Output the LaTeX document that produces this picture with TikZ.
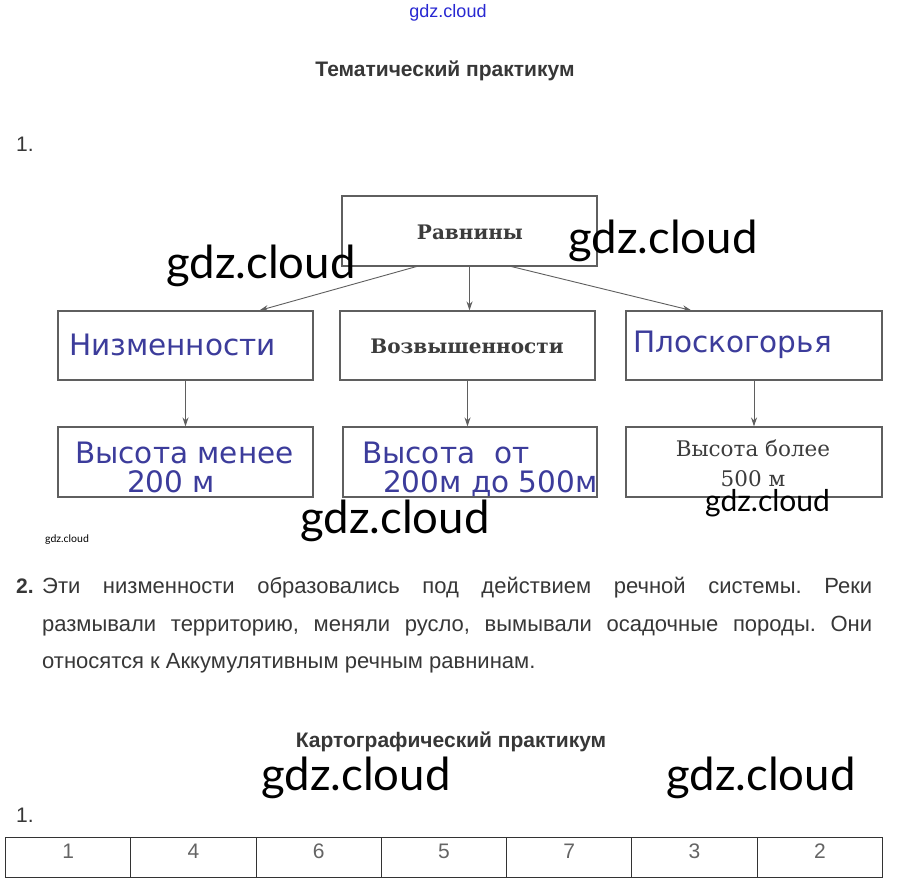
\documentclass[tikz,border=0pt]{standalone}
\usepackage{fontspec}
\setmainfont{Liberation Sans}
\newfontfamily\serifbook{DejaVu Serif}
\newfontfamily\wmfont{Lato}
\newfontfamily\handfont{DejaVu Sans}
\usetikzlibrary{arrows.meta,calc}
\definecolor{boxline}{RGB}{95,95,95}
\definecolor{txtgray}{RGB}{55,55,55}
\definecolor{numgray}{RGB}{100,100,100}
\definecolor{serifgray}{RGB}{60,60,60}
\definecolor{handblue}{RGB}{60,60,155}
\definecolor{topblue}{RGB}{40,40,210}
\frenchspacing
\begin{document}
\begin{tikzpicture}[x=1pt,y=-1pt,
  box/.style={draw=boxline, line width=1.1pt, minimum width=255pt, minimum height=70pt, inner sep=0pt},
  conn/.style={draw=boxline, line width=0.9pt, -{Stealth[length=9pt,width=6pt]}},
  wm/.style={font=\wmfont\fontsize{45.5}{46}\selectfont, text=black, inner sep=0pt, anchor=base west},
  hand/.style={font=\handfont\fontsize{29.5}{30}\selectfont, text=handblue, inner sep=0pt, anchor=base west},
  printb/.style={font=\serifbook\bfseries\fontsize{20}{22}\selectfont, text=serifgray, inner sep=0pt},
  printr/.style={font=\serifbook\fontsize{21.5}{23}\selectfont, text=serifgray, inner sep=0pt, anchor=base},
  head/.style={font=\bfseries\fontsize{21}{24}\selectfont, text=txtgray, inner sep=0pt, anchor=base},
  para/.style={font=\fontsize{22}{24}\selectfont, text=txtgray, inner sep=0pt, anchor=base west},
  cell/.style={draw=black!80, line width=1pt, minimum width=125.29pt, minimum height=40pt, inner sep=0pt, anchor=north west},
  num/.style={font=\fontsize{21}{21}\selectfont, text=numgray, inner sep=0pt, anchor=center, yshift=-14pt}
]
\useasboundingbox[fill=white] (0,0) rectangle (897,896);

% top watermark and heading
\node[font=\fontsize{18}{18}\selectfont, text=topblue, inner sep=0pt, anchor=base] (topwm) at (448,18) {gdz.cloud};
\node[head] (h1) at (445,77) {Тематический практикум};
\node[para, font=\fontsize{21}{22}\selectfont] (n1) at (16,152) {1.};

% boxes
\node[box] (R) at (469.5,231) {};
\node[box, minimum height=69pt] (N) at (185.5,345.5) {};
\node[box, minimum height=69pt] (V) at (467.5,345.5) {};
\node[box, minimum width=256pt, minimum height=69pt] (P) at (754,345.5) {};
\node[box] (BN) at (185.5,462) {};
\node[box, minimum width=254pt] (BV) at (470,462) {};
\node[box, minimum width=256pt] (BP) at (754,462) {};

% printed texts
\node[printb, anchor=base] (tR) at (470,240) {Равнины};
\node[printb, anchor=base] (tV) at (467,353) {Возвышенности};
\node[printr] (tBP1) at (753,456) {Высота более};
\node[printr] (tBP2) at (753,486) {500 м};

% handwritten texts
\node[hand] (tN) at (69,355) {Низменности};
\node[hand] (tP) at (633,352) {Плоскогорья};
\node[hand] (tBN1) at (75,463) {Высота менее};
\node[hand] (tBN2) at (127,492) {200 м};
\node[hand] (tBV1) at (362,463) {Высота\ \ от};
\node[hand] (tBV2) at (383,492) {200м до 500м};

% connectors
\draw[conn] ($(R.south west)+(75,0)$) -- ($(N.north west)+(202,0)$);
\draw[conn] (R.south) -- (R.south |- V.north);
\draw[conn] ($(R.south west)+(170,0)$) -- ($(P.north west)+(66,0)$);
\draw[conn] (N.south) -- (N.south |- BN.north);
\draw[conn] (V.south) -- (V.south |- BV.north);
\draw[conn] (P.south) -- (P.south |- BP.north);

% paragraph 2
\node[para, font=\bfseries\fontsize{21}{22}\selectfont] (n2) at (16,593) {2.};
\node[para] (l1) at (42,593) {\makebox[830pt][s]{Эти низменности образовались под действием речной системы. Реки}};
\node[para] (l2) at (42,631) {\makebox[830pt][s]{размывали территорию, меняли русло, вымывали осадочные породы. Они}};
\node[para] (l3) at (42,668) {относятся к Аккумулятивным речным равнинам.};

% second heading
\node[head] (h2) at (451,747) {Картографический практикум};
\node[para, font=\fontsize{21}{22}\selectfont] (n3) at (16,822) {1.};

% table
\node[cell, label={[num]north:1}] (c1) at (5,837) {};
\node[cell, label={[num]north:4}] (c2) at (130.29,837) {};
\node[cell, label={[num]north:6}] (c3) at (255.57,837) {};
\node[cell, label={[num]north:5}] (c4) at (380.86,837) {};
\node[cell, label={[num]north:7}] (c5) at (506.14,837) {};
\node[cell, label={[num]north:3}] (c6) at (631.43,837) {};
\node[cell, label={[num]north:2}] (c7) at (756.71,837) {};

% watermarks
\node[wm] (w1) at (166,278) {gdz.cloud};
\node[wm] (w2) at (568,254) {gdz.cloud};
\node[wm] (w3) at (300,533) {gdz.cloud};
\node[wm, font=\wmfont\fontsize{30}{31}\selectfont] (w4) at (705,511) {gdz.cloud};
\node[wm] (w5) at (261,790) {gdz.cloud};
\node[wm] (w6) at (666,790) {gdz.cloud};
\node[wm, font=\wmfont\fontsize{10.5}{11}\selectfont] (w7) at (45,542) {gdz.cloud};
\end{tikzpicture}
\end{document}
